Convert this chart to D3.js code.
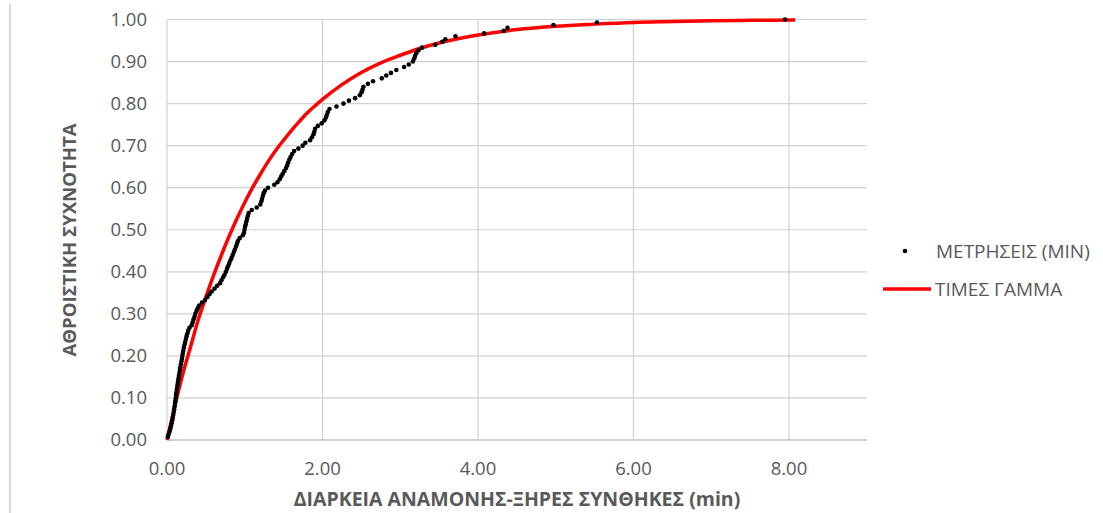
<!DOCTYPE html>
<html>
<head>
<meta charset="utf-8">
<script src="https://cdn.jsdelivr.net/npm/d3@7"></script>
<style>
    body { margin: 0; background: #fff; }
    .tick-label { font-family: 'Open Sans', sans-serif; font-size: 18.5px; fill: #595959; }
    .axis-title { font-family: 'Open Sans', sans-serif; font-weight: bold; fill: #595959; }
    .legend-label { font-family: 'Open Sans', sans-serif; font-size: 19px; fill: #595959; }
</style>
</head>
<body>
<div id="chart"></div>
<script>
// measured waiting times (min) and their cumulative frequency
const measX = [0.01, 0.02, 0.033, 0.043, 0.052, 0.06, 0.068, 0.074, 0.081, 0.087,
    0.092, 0.098, 0.103, 0.107, 0.112, 0.116, 0.121, 0.126, 0.132, 0.137,
    0.143, 0.149, 0.154, 0.16, 0.166, 0.172, 0.179, 0.186, 0.192, 0.198,
    0.204, 0.21, 0.217, 0.226, 0.234, 0.243, 0.252, 0.262, 0.272, 0.29,
    0.318, 0.33, 0.342, 0.354, 0.365, 0.38, 0.395, 0.413, 0.45, 0.489,
    0.52, 0.548, 0.575, 0.612, 0.645, 0.682, 0.70, 0.722, 0.74, 0.757,
    0.772, 0.785, 0.80, 0.815, 0.83, 0.845, 0.86, 0.873, 0.888, 0.90,
    0.912, 0.935, 0.975, 0.99, 0.997, 1.004, 1.013, 1.022, 1.031, 1.04,
    1.05, 1.09, 1.154, 1.20, 1.213, 1.222, 1.232, 1.243, 1.26, 1.30,
    1.38, 1.42, 1.45, 1.47, 1.488, 1.51, 1.532, 1.546, 1.558, 1.575,
    1.59, 1.61, 1.635, 1.69, 1.745, 1.78, 1.84, 1.865, 1.885, 1.895,
    1.905, 1.94, 1.99, 2.025, 2.045, 2.055, 2.068, 2.09, 2.18, 2.27,
    2.34, 2.42, 2.48, 2.503, 2.515, 2.527, 2.585, 2.65, 2.763, 2.82,
    2.88, 2.95, 3.05, 3.11, 3.162, 3.18, 3.19, 3.207, 3.235, 3.28,
    3.45, 3.54, 3.58, 3.71, 4.08, 4.33, 4.38, 4.97, 5.53, 7.95];
const measY = [0.007, 0.013, 0.020, 0.027, 0.033, 0.040, 0.047, 0.053, 0.060, 0.067,
    0.073, 0.080, 0.087, 0.093, 0.100, 0.107, 0.113, 0.120, 0.127, 0.133,
    0.140, 0.147, 0.153, 0.160, 0.167, 0.173, 0.180, 0.187, 0.193, 0.200,
    0.207, 0.213, 0.220, 0.227, 0.233, 0.240, 0.247, 0.253, 0.260, 0.267,
    0.273, 0.280, 0.287, 0.293, 0.300, 0.307, 0.313, 0.320, 0.327, 0.333,
    0.340, 0.347, 0.353, 0.360, 0.367, 0.373, 0.380, 0.387, 0.393, 0.400,
    0.407, 0.413, 0.420, 0.427, 0.433, 0.440, 0.447, 0.453, 0.460, 0.467,
    0.473, 0.480, 0.487, 0.493, 0.500, 0.507, 0.513, 0.520, 0.527, 0.533,
    0.540, 0.547, 0.553, 0.560, 0.567, 0.573, 0.580, 0.587, 0.593, 0.600,
    0.607, 0.613, 0.620, 0.627, 0.633, 0.640, 0.647, 0.653, 0.660, 0.667,
    0.673, 0.680, 0.687, 0.693, 0.700, 0.707, 0.713, 0.720, 0.727, 0.733,
    0.740, 0.747, 0.753, 0.760, 0.767, 0.773, 0.780, 0.787, 0.793, 0.800,
    0.807, 0.813, 0.820, 0.827, 0.833, 0.840, 0.847, 0.853, 0.860, 0.867,
    0.873, 0.880, 0.887, 0.893, 0.900, 0.907, 0.913, 0.920, 0.927, 0.933,
    0.940, 0.947, 0.953, 0.960, 0.967, 0.973, 0.980, 0.987, 0.993, 1.000];

// fitted gamma curve
const gammaX = [0, 0.1, 0.2, 0.3, 0.4, 0.5, 0.6, 0.7, 0.8, 0.9, 1.0, 1.1, 1.2, 1.3, 1.4, 1.5, 1.6, 1.7, 1.8, 1.9,
    2.0, 2.25, 2.5, 2.75, 3.0, 3.25, 3.5, 4.0, 4.5, 5.0, 5.5, 6.0, 6.5, 7.0, 7.5, 8.0, 8.08];
const gammaY = [0, 0.08, 0.155, 0.22, 0.285, 0.34, 0.392, 0.44, 0.485, 0.527, 0.565, 0.600, 0.632, 0.662, 0.689, 0.713, 0.736, 0.757, 0.777, 0.794,
    0.81, 0.845, 0.874, 0.897, 0.915, 0.931, 0.944, 0.963, 0.976, 0.984, 0.989, 0.993, 0.995, 0.997, 0.998, 0.999, 0.999];

const xTicks = [0, 2, 4, 6, 8];
const yTicks = [0, 0.1, 0.2, 0.3, 0.4, 0.5, 0.6, 0.7, 0.8, 0.9, 1.0];
const xTitle = 'ΔΙΑΡΚΕΙΑ ΑΝΑΜΟΝΗΣ-ΞΗΡΕΣ ΣΥΝΘΗΚΕΣ (min)';
const yTitle = 'ΑΘΡΟΙΣΤΙΚΗ ΣΥΧΝΟΤΗΤΑ';
const seriesNames = ['ΜΕΤΡΗΣΕΙΣ (MIN)', 'ΤΙΜΕΣ ΓΑΜΜΑ'];

class CdfChart {
    constructor(_config) {
        this.config = {
            parentElement: _config.parentElement,
            containerWidth: _config.containerWidth || 1103,
            containerHeight: _config.containerHeight || 513,
            margin: _config.margin || { top: 19.5, right: 236.3, bottom: 73, left: 167 }
        };
        this.points = measX.map((x, i) => ({ x: x, y: measY[i] }));
        this.curve = gammaX.map((x, i) => ({ x: x, y: gammaY[i] }));
        this.initVis();
    }

    initVis() {
        let vis = this;

        vis.width = vis.config.containerWidth - vis.config.margin.left - vis.config.margin.right;
        vis.height = vis.config.containerHeight - vis.config.margin.top - vis.config.margin.bottom;

        vis.svg = d3.select(vis.config.parentElement)
            .append('svg')
            .attr('width', vis.config.containerWidth)
            .attr('height', vis.config.containerHeight);

        // faint frame edge on the left
        vis.svg.append('line')
            .attr('x1', 10).attr('x2', 10)
            .attr('y1', 4).attr('y2', vis.config.containerHeight)
            .attr('stroke', '#d9d9d9')
            .attr('stroke-width', 2);

        vis.chart = vis.svg.append('g')
            .attr('transform', `translate(${vis.config.margin.left},${vis.config.margin.top})`);

        vis.xScale = d3.scaleLinear()
            .domain([0, 9])
            .range([0, vis.width]);

        vis.yScale = d3.scaleLinear()
            .domain([0, 1])
            .range([vis.height, 0]);

        vis.renderVis();
    }

    renderVis() {
        let vis = this;

        // gridlines
        vis.chart.append('g')
            .selectAll('line')
            .data(yTicks)
            .join('line')
            .attr('x1', 0)
            .attr('x2', vis.width)
            .attr('y1', d => vis.yScale(d))
            .attr('y2', d => vis.yScale(d))
            .attr('stroke', d => d === 0 ? '#bfbfbf' : '#d0d0d0')
            .attr('stroke-width', d => d === 0 ? 1.5 : 1.2);

        vis.chart.append('g')
            .selectAll('line')
            .data(xTicks)
            .join('line')
            .attr('x1', d => vis.xScale(d))
            .attr('x2', d => vis.xScale(d))
            .attr('y1', 0)
            .attr('y2', vis.height)
            .attr('stroke', '#d0d0d0')
            .attr('stroke-width', 1.2);

        // tick labels
        vis.chart.append('g')
            .selectAll('text')
            .data(yTicks)
            .join('text')
            .attr('class', 'tick-label')
            .attr('x', -20)
            .attr('y', d => vis.yScale(d))
            .attr('dy', '0.35em')
            .attr('text-anchor', 'end')
            .text(d => d3.format('.2f')(d));

        vis.chart.append('g')
            .selectAll('text')
            .data(xTicks)
            .join('text')
            .attr('class', 'tick-label')
            .attr('x', d => vis.xScale(d))
            .attr('y', vis.height + 28.5)
            .attr('dy', '0.35em')
            .attr('text-anchor', 'middle')
            .text(d => d3.format('.2f')(d));

        // axis titles
        vis.svg.append('text')
            .attr('class', 'axis-title')
            .attr('x', 517)
            .attr('y', 499.5)
            .attr('dy', '0.35em')
            .style('font-size', '19.5px')
            .style('text-anchor', 'middle')
            .text(xTitle);

        vis.svg.append('text')
            .attr('class', 'axis-title')
            .attr('transform', 'translate(69,240) rotate(-90)')
            .attr('dy', '0.35em')
            .style('font-size', '18.6px')
            .style('text-anchor', 'middle')
            .text(yTitle);

        // fitted gamma line
        const line = d3.line()
            .x(d => vis.xScale(d.x))
            .y(d => vis.yScale(d.y))
            .curve(d3.curveMonotoneX);

        vis.chart.append('path')
            .datum(vis.curve)
            .attr('fill', 'none')
            .attr('stroke', '#ff0000')
            .attr('stroke-width', 3.5)
            .attr('d', line);

        // measured points
        vis.chart.selectAll('.point')
            .data(vis.points)
            .join('circle')
            .attr('class', 'point')
            .attr('r', 2.3)
            .attr('cx', d => vis.xScale(d.x))
            .attr('cy', d => vis.yScale(d.y))
            .attr('fill', '#000');

        // legend
        vis.legend = vis.svg.append('g')
            .attr('class', 'legend');

        vis.legend.append('circle')
            .attr('cx', 905)
            .attr('cy', 251)
            .attr('r', 2.3)
            .attr('fill', '#000');

        vis.legend.append('line')
            .attr('x1', 883).attr('x2', 931)
            .attr('y1', 289).attr('y2', 289)
            .attr('stroke', '#ff0000')
            .attr('stroke-width', 3.5);

        vis.legend.selectAll('text')
            .data(seriesNames)
            .join('text')
            .attr('class', 'legend-label')
            .attr('x', (d, i) => i === 0 ? 936 : 935)
            .attr('y', (d, i) => i === 0 ? 251 : 289)
            .attr('dy', '0.35em')
            .text(d => d);
    }
}

new CdfChart({ parentElement: '#chart' });
</script>
</body>
</html>
